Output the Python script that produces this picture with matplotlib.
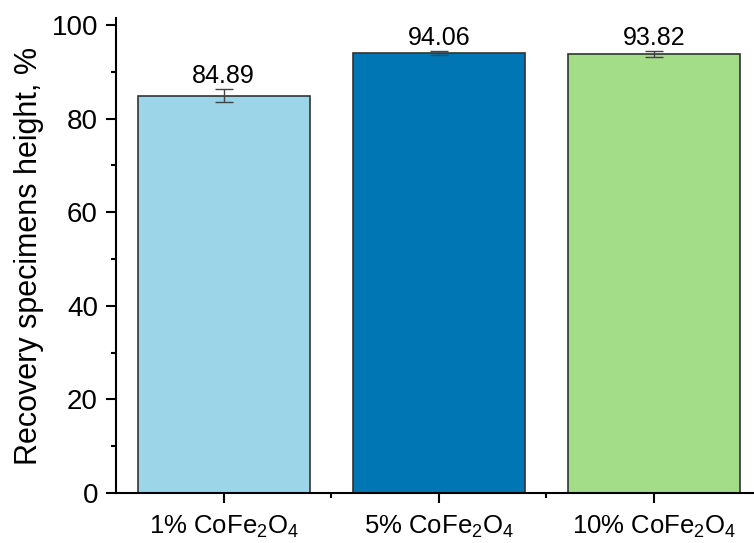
import matplotlib
matplotlib.use("Agg")
import matplotlib.pyplot as plt
from matplotlib.ticker import MultipleLocator, FixedLocator

plt.rcParams['font.family'] = ['Liberation Sans', 'DejaVu Sans']
plt.rcParams['mathtext.fontset'] = 'custom'
plt.rcParams['mathtext.rm'] = 'Liberation Sans'
plt.rcParams['mathtext.it'] = 'Liberation Sans'

categories = [r"1% CoFe$_2$O$_4$", r"5% CoFe$_2$O$_4$", r"10% CoFe$_2$O$_4$"]
values = [84.89, 94.06, 93.82]
errors = [1.36, 0.45, 0.6]
colors = ["#9CD4E8", "#0076B5", "#A4DD88"]

fig = plt.figure(figsize=(7.54, 5.43), dpi=100)
ax = fig.add_axes([116/754, (543-493)/543, (761.5-116)/754, (493-18)/543])

x = range(len(values))
ax.bar(x, values, width=0.8, color=colors, edgecolor="#333333", linewidth=1.2, zorder=2)
ax.errorbar(x, values, yerr=errors, fmt="none", ecolor="#444444", elinewidth=1.0,
            capsize=6.5, capthick=1.0, zorder=3)
for xi, v, e in zip(x, values, errors):
    ax.text(xi, v + e + 1.3, f"{v:.2f}", ha="center", va="baseline", fontsize=18)

ax.set_xlim(-0.5, 2.5)
ax.set_ylim(0, 101.5)
ax.yaxis.set_major_locator(MultipleLocator(20))
ax.yaxis.set_minor_locator(MultipleLocator(10))
ax.set_xticks(list(x))
ax.set_xticklabels(categories)
ax.xaxis.set_minor_locator(FixedLocator([0.5, 1.5]))

for s in ["top", "right"]:
    ax.spines[s].set_visible(False)
for s in ["left", "bottom"]:
    ax.spines[s].set_linewidth(1.5)

ax.tick_params(axis="both", which="major", direction="out", length=7, width=1.5, labelsize=20, pad=6)
ax.tick_params(axis="both", which="minor", direction="out", length=3.5, width=1.5)
ax.tick_params(axis="x", labelsize=18.5, pad=8)
ax.set_ylabel("Recovery specimens height, %", fontsize=22, labelpad=5)

fig.savefig("out.png", dpi=100)
